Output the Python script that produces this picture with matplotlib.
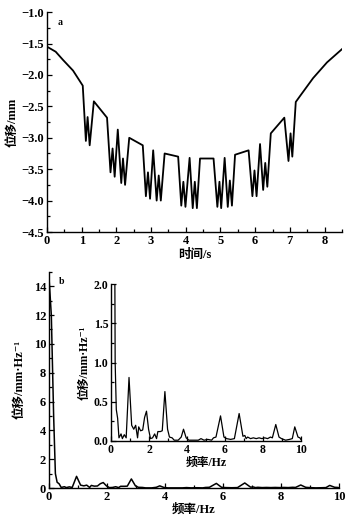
import matplotlib
matplotlib.use("Agg")
import matplotlib.pyplot as plt
from matplotlib.ticker import MultipleLocator

# ---- data (a): displacement vs time ----
time_s = [0.0, 0.25, 0.46, 0.75, 1.03,
          1.12, 1.17, 1.23, 1.35, 1.73,
          1.83, 1.89, 1.95, 2.04, 2.14, 2.19, 2.25, 2.37, 2.76,
          2.85, 2.91, 2.97, 3.06, 3.16, 3.22, 3.28, 3.39, 3.78,
          3.87, 3.93, 3.99, 4.11, 4.20, 4.26, 4.32, 4.41, 4.80,
          4.91, 4.97, 5.02, 5.12, 5.21, 5.27, 5.33, 5.42, 5.81,
          5.92, 5.98, 6.04, 6.14, 6.23, 6.29, 6.35, 6.45, 6.84,
          6.96, 7.02, 7.07, 7.17, 7.30, 7.67, 8.07, 8.5]
disp_mm = [-1.55, -1.63, -1.76, -1.93, -2.17,
           -3.05, -2.67, -3.12, -2.42, -2.68,
           -3.55, -3.17, -3.62, -2.87, -3.72, -3.33, -3.75, -3.00, -3.12,
           -3.93, -3.55, -3.97, -3.20, -4.00, -3.60, -4.00, -3.25, -3.30,
           -4.08, -3.70, -4.10, -3.32, -4.12, -3.70, -4.12, -3.33, -3.33,
           -4.10, -3.70, -4.12, -3.32, -4.10, -3.68, -4.08, -3.27, -3.20,
           -3.93, -3.52, -3.93, -3.10, -3.83, -3.40, -3.78, -2.93, -2.68,
           -3.37, -2.93, -3.30, -2.43, -2.33, -2.05, -1.80, -1.59]

# ---- data (b): amplitude spectrum ----
freq_hz = [0.0, 0.08, 0.16, 0.22, 0.28, 0.35, 0.42, 0.53, 0.60, 0.70,
           0.80, 0.95, 1.09, 1.20, 1.30, 1.40, 1.46, 1.56, 1.67, 1.77,
           1.87, 1.98, 2.08, 2.19, 2.30, 2.40, 2.47, 2.60, 2.70, 2.84,
           2.98, 3.08, 3.22, 3.33, 3.54, 3.70, 3.82, 3.96, 4.10, 4.40,
           4.60, 4.74, 4.90, 5.10, 5.30, 5.40, 5.53, 5.77, 5.95, 6.09,
           6.30, 6.50, 6.75, 6.95, 7.05, 7.12, 7.20, 7.35, 7.50, 7.65,
           7.80, 7.95, 8.10, 8.25, 8.40, 8.50, 8.68, 8.85, 8.98, 9.20,
           9.40, 9.55, 9.68, 9.85, 9.95, 10.0]
amp = [14.6, 12.0, 5.0, 1.0, 0.40, 0.29, 0.04, 0.09, 0.03, 0.08,
       0.04, 0.81, 0.20, 0.15, 0.20, 0.04, 0.18, 0.13, 0.14, 0.30,
       0.38, 0.15, 0.03, 0.04, 0.09, 0.03, 0.12, 0.12, 0.13, 0.63,
       0.15, 0.05, 0.04, 0.01, 0.01, 0.05, 0.15, 0.04, 0.01, 0.01,
       0.01, 0.03, 0.01, 0.02, 0.01, 0.04, 0.05, 0.32, 0.05, 0.03,
       0.02, 0.03, 0.35, 0.06, 0.07, 0.03, 0.05, 0.03, 0.04, 0.03,
       0.04, 0.03, 0.04, 0.03, 0.05, 0.04, 0.21, 0.05, 0.03, 0.01,
       0.02, 0.03, 0.18, 0.05, 0.04, 0.02]

SERIF = ['Liberation Serif', 'Noto Sans CJK SC', 'DejaVu Serif']
plt.rcParams['font.family'] = SERIF
plt.rcParams['font.weight'] = 'bold'

fig = plt.figure(figsize=(3.49, 5.21), dpi=100)

def style(ax, fs=9):
    for s in ('top', 'right'):
        ax.spines[s].set_visible(False)
    for s in ('left', 'bottom'):
        ax.spines[s].set_linewidth(1.0)
    ax.tick_params(which='both', direction='in', labelsize=fs, width=0.9)
    ax.tick_params(which='major', length=3.5, pad=2)
    ax.tick_params(which='minor', length=2)
    for lab in ax.get_xticklabels() + ax.get_yticklabels():
        lab.set_fontweight('bold')

# (a)
ax1 = fig.add_axes([0.1347, 0.5547, 0.845, 0.422])
ax1.plot(time_s, disp_mm, color='black', lw=1.3)
ax1.set_xlim(0, 8.5)
ax1.xaxis.set_major_locator(MultipleLocator(1))
ax1.xaxis.set_minor_locator(MultipleLocator(0.5))
yt = [-4.5, -4.0, -3.5, -3.0, -2.5, -2.0, -1.5, -1.0]
ax1.set_yticks(yt)
ax1.set_yticklabels(['−%.1f' % abs(v) for v in yt])
ax1.yaxis.set_minor_locator(MultipleLocator(0.25))
ax1.set_ylim(-4.5, -1.0)
style(ax1)
ax1.set_xlabel('时间/s', fontsize=9, fontweight='bold', labelpad=1.5)
ax1.set_ylabel('位移/mm', fontsize=9, fontweight='bold', labelpad=2)
ax1.text(0.035, 0.975, 'a', transform=ax1.transAxes, fontsize=7, fontweight='bold',
         va='top', ha='left')

# (b)
ax2 = fig.add_axes([0.1404, 0.0633, 0.831, 0.415])
ax2.plot(freq_hz, amp, color='black', lw=1.1)
ax2.set_xlim(0, 10)
ax2.set_ylim(0, 15)
ax2.xaxis.set_major_locator(MultipleLocator(2))
ax2.xaxis.set_minor_locator(MultipleLocator(1))
ax2.yaxis.set_major_locator(MultipleLocator(2))
ax2.yaxis.set_minor_locator(MultipleLocator(1))
style(ax2)
ax2.set_xlabel('频率/Hz', fontsize=9, fontweight='bold', labelpad=0.5)
ax2.set_ylabel('位移/mm·Hz⁻¹', fontsize=9, fontweight='bold', labelpad=6)
ax2.text(0.035, 0.975, 'b', transform=ax2.transAxes, fontsize=7, fontweight='bold',
         va='top', ha='left')

# inset
ax3 = fig.add_axes([0.318, 0.1536, 0.544, 0.301])
ax3.plot(freq_hz, amp, color='black', lw=0.9)
ax3.set_xlim(0, 10)
ax3.set_ylim(0, 2.0)
ax3.xaxis.set_major_locator(MultipleLocator(2))
ax3.xaxis.set_minor_locator(MultipleLocator(1))
ax3.yaxis.set_major_locator(MultipleLocator(0.5))
ax3.yaxis.set_minor_locator(MultipleLocator(0.25))
style(ax3, fs=8.5)
ax3.set_xlabel('频率/Hz', fontsize=8.5, fontweight='bold', labelpad=0.5)
ax3.set_ylabel('位移/mm·Hz⁻¹', fontsize=8.5, fontweight='bold', labelpad=2)

fig.savefig('out.png', dpi=100)
